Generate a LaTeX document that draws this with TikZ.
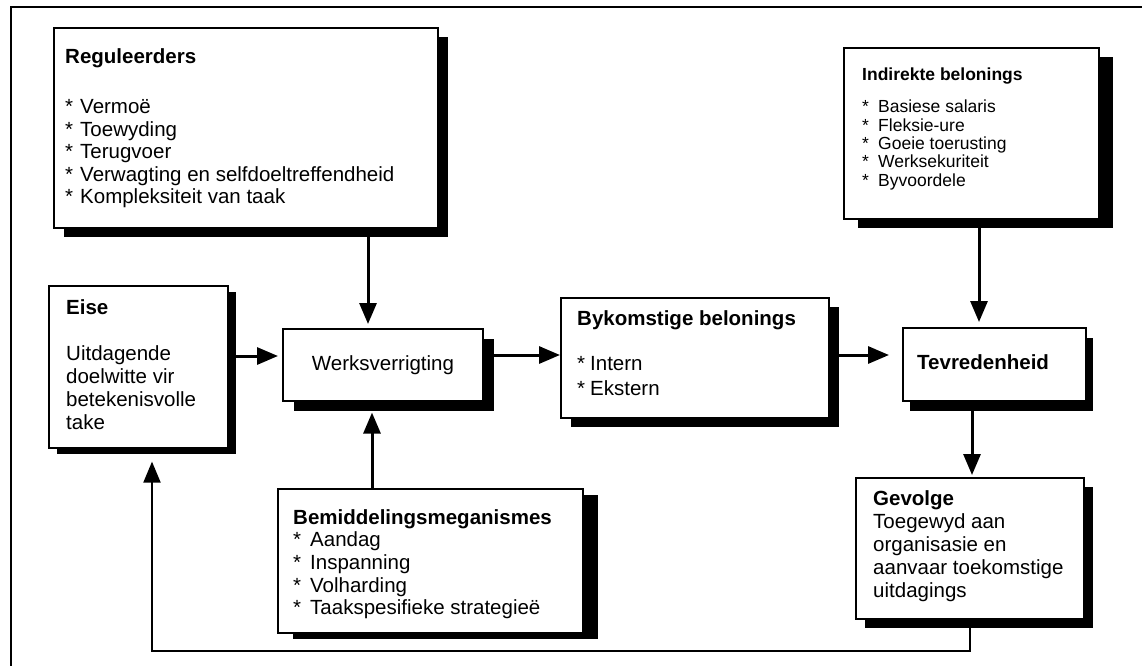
\documentclass[tikz,border=0pt]{standalone}
\usepackage{fontspec}
\setmainfont{Liberation Sans}
\usetikzlibrary{arrows.meta,shadows}

% bullet with a fixed-width slot for the asterisk
\newcommand\itm[1]{\makebox[#1][l]{*}}

\begin{document}
\begin{tikzpicture}[x=1pt,y=-1pt,
  sbox/.style 2 args={draw=black, fill=white, line width=1.6pt, inner sep=0pt,
    anchor=north west,
    drop shadow={shadow xshift=#1, shadow yshift=#2, fill=black, opacity=1}},
  txt/.style={inner sep=0pt, anchor=base west},
  arr/.style={line width=3pt, -{Triangle[length=21pt,width=17pt]}},
  fb/.style={line width=2pt, -{Triangle[length=21pt,width=17pt]}},
  frame/.style={line width=2.5pt}]

\useasboundingbox (0,0) rectangle (1142,666);

% outer frame (top and left edges)
\draw[frame] (1142,7) -- (11,7) -- (11,666);

% boxes
\node[sbox={10pt}{-9pt},  minimum width=384pt, minimum height=200pt] (reg)  at (53,27)  {};
\node[sbox={14pt}{-9pt},  minimum width=255pt, minimum height=171pt] (ind)  at (843,47) {};
\node[sbox={8pt}{-6pt},   minimum width=179pt, minimum height=162pt] (eise) at (48,285) {};
\node[sbox={11pt}{-10pt}, minimum width=200pt, minimum height=72pt]  (wv)   at (282,328) {};
\node[sbox={10pt}{-9pt},  minimum width=268pt, minimum height=120pt] (byk)  at (560,297) {};
\node[sbox={7pt}{-10pt},  minimum width=183pt, minimum height=73pt]  (tev)  at (902,327) {};
\node[sbox={9pt}{-9pt},   minimum width=228pt, minimum height=141pt] (gev)  at (855,477) {};
\node[sbox={15pt}{-6pt},  minimum width=305pt, minimum height=144pt] (bem)  at (277,488) {};

% box texts
\node[txt] (regt) at (65,64) {\parbox[t]{370pt}{\fontsize{20.5}{22.5}\selectfont
  \textbf{Reguleerders}\\[27.5pt]
  \itm{15pt}Vermoë\\
  \itm{15pt}Toewyding\\
  \itm{15pt}Terugvoer\\
  \itm{15pt}Verwagting en selfdoeltreffendheid\\
  \itm{15pt}Kompleksiteit van taak}};

\node[txt] (indt) at (862,81) {\parbox[t]{230pt}{\fontsize{17.5}{18.3}\selectfont
  \textbf{Indirekte belonings}\\[13.7pt]
  \itm{16pt}Basiese salaris\\
  \itm{16pt}Fleksie-ure\\
  \itm{16pt}Goeie toerusting\\
  \itm{16pt}Werksekuriteit\\
  \itm{16pt}Byvoordele}};

\node[txt] (eiset) at (66,314) {\parbox[t]{160pt}{\fontsize{20.5}{23.3}\selectfont
  \textbf{Eise}\\[22.7pt]
  Uitdagende\\
  doelwitte vir\\
  betekenisvolle\\
  take}};

\node[inner sep=0pt, anchor=base] (wvt) at (383,370)
  {\fontsize{20.5}{23}\selectfont Werksverrigting};

\node[txt] (bykt) at (577,325) {\parbox[t]{250pt}{\fontsize{20.5}{25}\selectfont
  \textbf{Bykomstige belonings}\\[20pt]
  \itm{13pt}Intern\\
  \itm{13pt}Ekstern}};

\node[txt] (tevt) at (917,369) {\fontsize{20.5}{23}\selectfont\textbf{Tevredenheid}};

\node[txt] (gevt) at (873,505) {\parbox[t]{210pt}{\fontsize{20.5}{23}\selectfont
  \textbf{Gevolge}\\
  Toegewyd aan\\
  organisasie en\\
  aanvaar toekomstige\\
  uitdagings}};

\node[txt] (bemt) at (293,524) {\parbox[t]{290pt}{\fontsize{20.5}{22.7}\selectfont
  \textbf{Bemiddelingsmeganismes}\\
  \itm{17pt}Aandag\\
  \itm{17pt}Inspanning\\
  \itm{17pt}Volharding\\
  \itm{17pt}Taakspesifieke strategieë}};

% connector guide positions
\coordinate (xa) at (368,0);
\coordinate (xb) at (372,0);
\coordinate (ya) at (0,356);
\coordinate (yb) at (0,355);
\coordinate (xc) at (979,0);
\coordinate (xd) at (972,0);
\coordinate (fbr) at (970,651);
\coordinate (fbl) at (152,651);

% connectors
\draw[arr, shorten >=4pt]  (reg.south -| xa) -- (wv.north -| xa);
\draw[arr, shorten >=11pt] (bem.north -| xb) -- (wv.south -| xb);
\draw[arr, shorten >=4pt]  (eise.east |- ya) -- (wv.west |- ya);
\draw[arr]                 (wv.east |- yb) -- (byk.west |- yb);
\draw[arr, shorten >=13pt] (byk.east |- yb) -- (tev.west |- yb);
\draw[arr, shorten >=5pt]  (ind.south -| xc) -- (tev.north -| xc);
\draw[arr, shorten >=2pt]  (tev.south -| xd) -- (gev.north -| xd);
\draw[fb, shorten >=13pt]  (gev.south -| fbr) |- (fbl) -- (eise.south -| fbl);

\end{tikzpicture}
\end{document}
